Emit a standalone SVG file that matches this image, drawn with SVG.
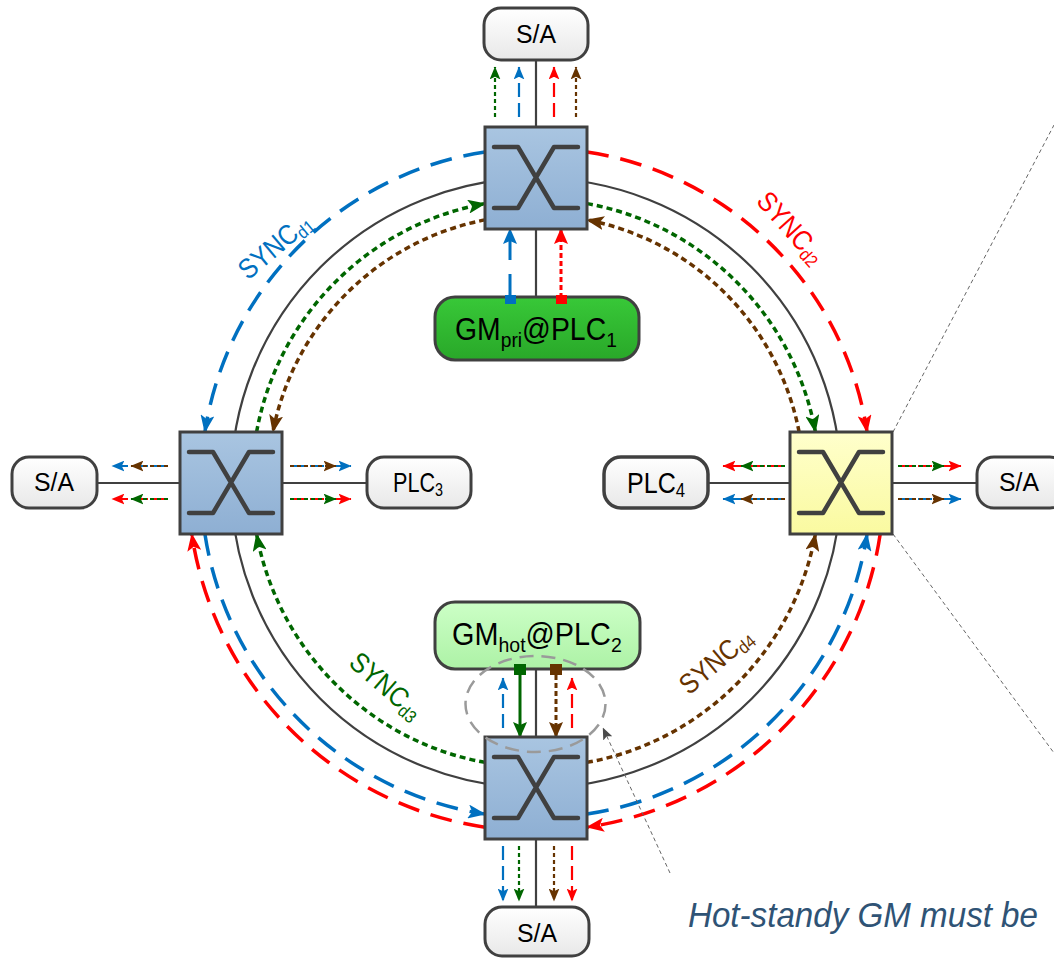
<svg xmlns="http://www.w3.org/2000/svg" xmlns:xlink="http://www.w3.org/1999/xlink" width="1054" height="958" viewBox="0 0 1054 958">
<style>
.ring{fill:none;stroke:#404040;stroke-width:2.2}
.link{fill:none;stroke:#404040;stroke-width:2.2}
.dB{fill:none;stroke:#0070c0;stroke-width:3.5;stroke-dasharray:22 12}
.dR{fill:none;stroke:#ff0000;stroke-width:3.5;stroke-dasharray:22 12}
.oG{fill:none;stroke:#006600;stroke-width:3.5;stroke-dasharray:6 4}
.oN{fill:none;stroke:#663300;stroke-width:3.5;stroke-dasharray:6 4}
.sB{fill:none;stroke:#0070c0;stroke-width:2.2;stroke-dasharray:14 6}
.sR{fill:none;stroke:#ff0000;stroke-width:2.2;stroke-dasharray:14 6}
.sG{fill:none;stroke:#006600;stroke-width:2.2;stroke-dasharray:4 3}
.sN{fill:none;stroke:#663300;stroke-width:2.2;stroke-dasharray:4 3}
.box{stroke:#404040;stroke-width:3}
.sw{stroke:#404040;stroke-width:3}
.xs{fill:none;stroke:#404040;stroke-width:4.5;stroke-linecap:round;stroke-linejoin:round}
.lbl{font-family:"Liberation Sans",Arial,sans-serif;fill:#000}
.sync{font-family:"Liberation Sans",Arial,sans-serif;font-size:28px}
.note{font-family:"Liberation Sans",Arial,sans-serif;font-style:italic;font-size:35px;fill:#2f5375}
.callout{fill:none;stroke:#666;stroke-width:1;stroke-dasharray:4 3}
</style>
<defs>
<linearGradient id="gSw" x1="0" y1="0" x2="0" y2="1"><stop offset="0" stop-color="#a9c5e1"/><stop offset="1" stop-color="#8eafd3"/></linearGradient>
<linearGradient id="gSwY" x1="0" y1="0" x2="0" y2="1"><stop offset="0" stop-color="#ffffcc"/><stop offset="1" stop-color="#fafaa0"/></linearGradient>
<linearGradient id="gSA" x1="0" y1="0" x2="0" y2="1"><stop offset="0" stop-color="#ffffff"/><stop offset="1" stop-color="#e8e8e8"/></linearGradient>
<linearGradient id="gPri" x1="0" y1="0" x2="0" y2="1"><stop offset="0" stop-color="#38c838"/><stop offset="1" stop-color="#29a829"/></linearGradient>
<linearGradient id="gHot" x1="0" y1="0" x2="0" y2="1"><stop offset="0" stop-color="#ccffc6"/><stop offset="1" stop-color="#adf2a6"/></linearGradient>
<marker id="LB" viewBox="0 0 18 14" refX="17" refY="7" markerWidth="18" markerHeight="14" markerUnits="userSpaceOnUse" orient="auto"><path d="M0,0 L18,7 L0,14 L4,7 Z" fill="#0070c0"/></marker>
<marker id="LR" viewBox="0 0 18 14" refX="17" refY="7" markerWidth="18" markerHeight="14" markerUnits="userSpaceOnUse" orient="auto"><path d="M0,0 L18,7 L0,14 L4,7 Z" fill="#ff0000"/></marker>
<marker id="LG" viewBox="0 0 18 14" refX="17" refY="7" markerWidth="18" markerHeight="14" markerUnits="userSpaceOnUse" orient="auto"><path d="M0,0 L18,7 L0,14 L4,7 Z" fill="#006600"/></marker>
<marker id="LN" viewBox="0 0 18 14" refX="17" refY="7" markerWidth="18" markerHeight="14" markerUnits="userSpaceOnUse" orient="auto"><path d="M0,0 L18,7 L0,14 L4,7 Z" fill="#663300"/></marker>
<marker id="MB" viewBox="0 0 16 14" refX="15" refY="7" markerWidth="16" markerHeight="14" markerUnits="userSpaceOnUse" orient="auto"><path d="M0,0 L16,7 L0,14 L3,7 Z" fill="#0070c0"/></marker>
<marker id="MR" viewBox="0 0 16 14" refX="15" refY="7" markerWidth="16" markerHeight="14" markerUnits="userSpaceOnUse" orient="auto"><path d="M0,0 L16,7 L0,14 L3,7 Z" fill="#ff0000"/></marker>
<marker id="MG" viewBox="0 0 16 14" refX="15" refY="7" markerWidth="16" markerHeight="14" markerUnits="userSpaceOnUse" orient="auto"><path d="M0,0 L16,7 L0,14 L3,7 Z" fill="#006600"/></marker>
<marker id="MN" viewBox="0 0 16 14" refX="15" refY="7" markerWidth="16" markerHeight="14" markerUnits="userSpaceOnUse" orient="auto"><path d="M0,0 L16,7 L0,14 L3,7 Z" fill="#663300"/></marker>
<marker id="SB" viewBox="0 0 12 10" refX="11.5" refY="5" markerWidth="13" markerHeight="11" markerUnits="userSpaceOnUse" orient="auto"><path d="M0,0 L12,5 L0,10 L2.5,5 Z" fill="#0070c0"/></marker>
<marker id="SR" viewBox="0 0 12 10" refX="11.5" refY="5" markerWidth="13" markerHeight="11" markerUnits="userSpaceOnUse" orient="auto"><path d="M0,0 L12,5 L0,10 L2.5,5 Z" fill="#ff0000"/></marker>
<marker id="SG" viewBox="0 0 12 10" refX="11.5" refY="5" markerWidth="13" markerHeight="11" markerUnits="userSpaceOnUse" orient="auto"><path d="M0,0 L12,5 L0,10 L2.5,5 Z" fill="#006600"/></marker>
<marker id="SN" viewBox="0 0 12 10" refX="11.5" refY="5" markerWidth="13" markerHeight="11" markerUnits="userSpaceOnUse" orient="auto"><path d="M0,0 L12,5 L0,10 L2.5,5 Z" fill="#663300"/></marker>
<marker id="SK" viewBox="0 0 12 10" refX="11.5" refY="5" markerWidth="12" markerHeight="10" markerUnits="userSpaceOnUse" orient="auto"><path d="M0,0 L12,5 L0,10 L2.5,5 Z" fill="#4a4a4a"/></marker>
<g id="xsym"><path class="xs" d="M9,20 H33 L69,81 H93 M9,81 H33 L69,20 H93"/></g>
</defs>

<g id="connectors">
  <circle class="ring" cx="536" cy="483" r="305"/>
  <path class="link" d="M536,60 V127 M536,229 V297 M97,483 H180 M282,483 H367 M708,483 H790 M892,483 H977 M536,669 V737 M536,839 V907"/>

  <path class="dB" marker-end="url(#LB)" d="M485,151.9 A335,335 0 0 0 204.9,432"/>
  <path class="oG" marker-end="url(#LG)" d="M256.6,432 A284,284 0 0 1 485,203.6"/>
  <path class="oN" marker-end="url(#LN)" d="M485,219.9 A268,268 0 0 0 272.9,432"/>
  <path class="dR" marker-end="url(#LR)" d="M587,151.9 A335,335 0 0 1 867.1,432"/>
  <path class="oG" marker-end="url(#LG)" d="M587,203.6 A284,284 0 0 1 815.4,432"/>
  <path class="oN" marker-end="url(#LN)" d="M799.1,432 A268,268 0 0 0 587,219.9"/>
  <path class="dR" marker-end="url(#LR)" d="M485,827.2 A348,348 0 0 1 191.8,534"/>
  <path class="dB" marker-end="url(#LB)" d="M204.9,534 A335,335 0 0 0 485,814.1"/>
  <path class="oG" marker-end="url(#LG)" d="M485,762.4 A284,284 0 0 1 256.6,534"/>
  <path class="oN" marker-end="url(#LN)" d="M587,762.4 A284,284 0 0 0 815.4,534"/>
  <path class="dB" marker-end="url(#LB)" d="M587,814.1 A335,335 0 0 0 867.1,534"/>
  <path class="dR" marker-end="url(#LR)" d="M880.2,534 A348,348 0 0 1 587,827.2"/>

  <path class="sG" marker-end="url(#SG)" d="M495,117 V67"/>
  <path class="sB" marker-end="url(#SB)" d="M519,117 V67"/>
  <path class="sR" marker-end="url(#SR)" d="M554,117 V67"/>
  <path class="sN" marker-end="url(#SN)" d="M576,117 V67"/>
  <path fill="none" stroke="#0070c0" stroke-width="3" stroke-dasharray="24 14" marker-end="url(#MB)" d="M510,298 V229"/>
  <path fill="none" stroke="#ff0000" stroke-width="3" stroke-dasharray="5 3" marker-end="url(#MR)" d="M561,298 V229"/>

  <path class="sB" marker-end="url(#SB)" d="M168,466 H112"/>
  <path class="sN" marker-end="url(#SN)" d="M168,466 H131"/>
  <path class="sR" marker-end="url(#SR)" d="M168,499 H112"/>
  <path class="sG" marker-end="url(#SG)" d="M168,499 H131"/>
  <path class="sB" marker-end="url(#SB)" d="M290,466 H351"/>
  <path class="sN" marker-end="url(#SN)" d="M290,466 H336"/>
  <path class="sR" marker-end="url(#SR)" d="M290,499 H351"/>
  <path class="sG" marker-end="url(#SG)" d="M290,499 H336"/>

  <path class="sR" marker-end="url(#SR)" d="M785,466 H723"/>
  <path class="sG" marker-end="url(#SG)" d="M785,466 H741"/>
  <path class="sB" marker-end="url(#SB)" d="M785,499 H723"/>
  <path class="sN" marker-end="url(#SN)" d="M785,499 H741"/>
  <path class="sR" marker-end="url(#SR)" d="M898,466 H961"/>
  <path class="sG" marker-end="url(#SG)" d="M898,466 H944"/>
  <path class="sB" marker-end="url(#SB)" d="M898,499 H961"/>
  <path class="sN" marker-end="url(#SN)" d="M898,499 H944"/>

  <path class="sB" marker-end="url(#SB)" d="M503,728 V678"/>
  <path class="sR" marker-end="url(#SR)" d="M572,728 V678"/>
  <path fill="none" stroke="#006600" stroke-width="3" marker-end="url(#MG)" d="M520,675 V737"/>
  <path fill="none" stroke="#663300" stroke-width="3" stroke-dasharray="5 3" marker-end="url(#MN)" d="M556,675 V737"/>
  <path class="sB" marker-end="url(#SB)" d="M503,846 V901"/>
  <path class="sG" marker-end="url(#SG)" d="M519,846 V901"/>
  <path class="sN" marker-end="url(#SN)" d="M554,846 V901"/>
  <path class="sR" marker-end="url(#SR)" d="M572,846 V901"/>

  <path class="callout" d="M893,432 L1054,125"/>
  <path class="callout" d="M893,534 L1054,753"/>
  <path class="callout" marker-end="url(#SK)" d="M670,873 L603,728"/>
</g>

<g id="labels-sync">
  <text class="sync" fill="#0070c0" text-anchor="middle" transform="translate(281,253) rotate(-40) scale(0.88,1)">SYNC<tspan font-size="18" dy="4">d1</tspan></text>
  <text class="sync" fill="#ff0000" text-anchor="middle" transform="translate(784,234) rotate(48) scale(0.88,1)">SYNC<tspan font-size="18" dy="4">d2</tspan></text>
  <text class="sync" fill="#006600" text-anchor="middle" transform="translate(380,693) rotate(41) scale(0.88,1)">SYNC<tspan font-size="18" dy="4">d3</tspan></text>
  <text class="sync" fill="#663300" text-anchor="middle" transform="translate(722,668) rotate(-40) scale(0.88,1)">SYNC<tspan font-size="18" dy="4">d4</tspan></text>
</g>

<g id="sw-top">
  <rect class="sw" x="485" y="127" width="102" height="102" fill="url(#gSw)"/>
  <use href="#xsym" x="485" y="127"/>
</g>
<g id="sw-left">
  <rect class="sw" x="180" y="432" width="102" height="102" fill="url(#gSw)"/>
  <use href="#xsym" x="180" y="432"/>
</g>
<g id="sw-right">
  <rect class="sw" x="790" y="432" width="102" height="102" fill="url(#gSwY)"/>
  <use href="#xsym" x="790" y="432"/>
</g>
<g id="sw-bottom">
  <rect class="sw" x="485" y="737" width="102" height="102" fill="url(#gSw)"/>
  <use href="#xsym" x="485" y="737"/>
</g>

<g id="sa-top">
  <rect class="box" x="484" y="8" width="104" height="52" rx="17" fill="url(#gSA)"/>
  <text class="lbl" x="536" y="43" font-size="26" text-anchor="middle" textLength="40" lengthAdjust="spacingAndGlyphs">S/A</text>
</g>
<g id="sa-left">
  <rect class="box" x="12" y="457" width="85" height="51" rx="17" fill="url(#gSA)"/>
  <text class="lbl" x="54" y="491" font-size="26" text-anchor="middle" textLength="40" lengthAdjust="spacingAndGlyphs">S/A</text>
</g>
<g id="plc3">
  <rect class="box" x="367" y="457" width="104" height="51" rx="17" fill="url(#gSA)"/>
  <text class="lbl" font-size="27" transform="translate(393,492) scale(0.8,1)">PLC<tspan font-size="18" dy="4">3</tspan></text>
</g>
<g id="plc4">
  <rect x="604" y="457" width="104" height="51" rx="17" fill="url(#gSA)" stroke="#404040" stroke-width="3.5"/>
  <text class="lbl" font-size="30" transform="translate(627,493) scale(0.835,1)">PLC<tspan font-size="20" dy="4">4</tspan></text>
</g>
<g id="sa-right">
  <rect class="box" x="977" y="457" width="90" height="51" rx="17" fill="url(#gSA)"/>
  <text class="lbl" x="999" y="491" font-size="26" textLength="40" lengthAdjust="spacingAndGlyphs">S/A</text>
</g>
<g id="sa-bottom">
  <rect class="box" x="485" y="907" width="104" height="49" rx="17" fill="url(#gSA)"/>
  <text class="lbl" x="537" y="942" font-size="26" text-anchor="middle" textLength="40" lengthAdjust="spacingAndGlyphs">S/A</text>
</g>
<g id="gm-pri">
  <rect class="box" x="435" y="297" width="204" height="63" rx="20" fill="url(#gPri)"/>
  <text class="lbl" font-size="31" transform="translate(455,340) scale(0.916,1)">GM<tspan font-size="21" dy="7">pri</tspan><tspan dy="-7">@PLC</tspan><tspan font-size="21" dy="7">1</tspan></text>
  <rect x="505" y="295" width="11" height="9" fill="#0070c0"/>
  <rect x="556" y="295" width="11" height="9" fill="#ff0000"/>
</g>
<g id="gm-hot">
  <rect class="box" x="435" y="602" width="205" height="67" rx="20" fill="url(#gHot)"/>
  <text class="lbl" font-size="31" transform="translate(452,645) scale(0.93,1)">GM<tspan font-size="21" dy="7">hot</tspan><tspan dy="-7">@PLC</tspan><tspan font-size="21" dy="7">2</tspan></text>
  <rect x="514" y="664" width="12" height="11" fill="#006600"/>
  <rect x="550" y="664" width="12" height="11" fill="#663300"/>
</g>

<g id="hot-standby-marker">
  <ellipse cx="535.5" cy="704" rx="70" ry="48" fill="none" stroke="#9a9a9a" stroke-width="2.5" stroke-dasharray="14 8"/>
</g>

<g id="note">
  <text class="note" x="688" y="927" textLength="350" lengthAdjust="spacingAndGlyphs">Hot-standy GM must be</text>
</g>
</svg>
